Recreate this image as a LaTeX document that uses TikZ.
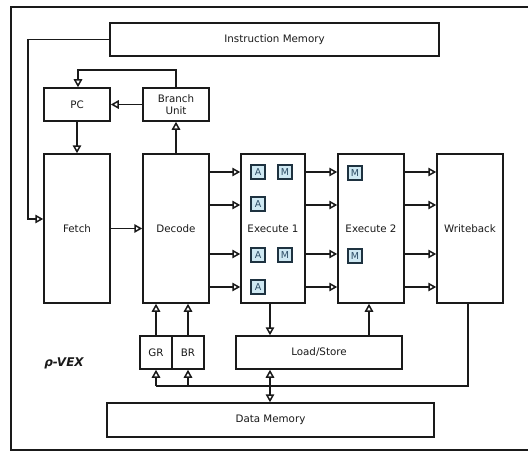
\documentclass[tikz,border=0pt]{standalone}
\usepackage{fontspec}
\setmainfont{DejaVu Sans}
\usetikzlibrary{arrows.meta,calc}
\definecolor{ink}{HTML}{1A1A1A}
\definecolor{unitfill}{HTML}{CFE9F3}
\definecolor{unitedge}{HTML}{1E3240}
\definecolor{unittext}{HTML}{2D4D66}
\newcommand\lblfont{\fontsize{10.3}{12.5}\selectfont}
\newcommand\unitfont{\fontsize{9.5}{10}\selectfont}
\begin{document}
\begin{tikzpicture}[x=1pt,y=-1pt,line width=1.5pt,draw=ink,
  blk/.style={draw=ink,fill=white,inner sep=0pt,align=center,font=\lblfont,text=ink},
  unit/.style={draw=unitedge,fill=unitfill,minimum size=14pt,inner sep=0pt,
               font=\unitfont,text=unittext,line width=1.2pt},
  arr/.style={-{Triangle[open,length=8pt,width=8.5pt]}},
  dar/.style={{Triangle[open,length=8pt,width=8.5pt]}-{Triangle[open,length=8pt,width=8.5pt]}}]
\useasboundingbox (0,0) rectangle (528,452);

% enclosing frame (open to the right)
\draw (528,7) -- (11,7) -- (11,450) -- (528,450);

% memories
\node[blk,minimum width=329pt,minimum height=33pt] (im) at (274.5,39.5) {Instruction Memory};
\node[blk,minimum width=327pt,minimum height=34pt] (dm) at (270.5,420) {Data Memory};

% front end
\node[blk,minimum width=66pt,minimum height=33pt] (pc) at (77,104.5) {PC};
\node[blk,minimum width=66pt,minimum height=33pt] (bu) at (176,104.5) {Branch\\Unit};

% pipeline stages
\node[blk,minimum width=66pt,minimum height=149pt] (fetch) at (77,228.5) {Fetch};
\node[blk,minimum width=66pt,minimum height=149pt] (dec) at (176,228.5) {Decode};
\node[blk,minimum width=64pt,minimum height=149pt] (ex1) at (273,228.5) {Execute 1};
\node[blk,minimum width=66pt,minimum height=149pt] (ex2) at (371,228.5) {Execute 2};
\node[blk,minimum width=66pt,minimum height=149pt] (wb) at (470,228.5) {Writeback};

% register files and load/store unit
\node[blk,minimum width=32pt,minimum height=33pt] (gr) at (156,352.5) {GR};
\node[blk,minimum width=32pt,minimum height=33pt] (br) at (188,352.5) {BR};
\node[blk,minimum width=166pt,minimum height=33pt] (ls) at (319,352.5) {Load/Store};

% functional units inside the execute stages
\node[unit] (a1) at (258,172) {A};
\node[unit] (m1) at (285,172) {M};
\node[unit] (a2) at (258,204) {A};
\node[unit] (a3) at (258,255) {A};
\node[unit] (m3) at (285,255) {M};
\node[unit] (a4) at (258,287) {A};
\node[unit] (m5) at (355,173) {M};
\node[unit] (m6) at (355,256) {M};

\node[font=\bfseries\itshape\fontsize{12}{14}\selectfont,text=ink] (name) at (64,363) {ρ-VEX};

% helper coordinates
\coordinate (feed) at (28,0);
\coordinate (fin) at (0,219);
\coordinate (bus) at (0,386);
\coordinate (lsx) at (270,0);
\coordinate (lsy) at (369,0);

% instruction fetch path
\draw[arr] (im.west) -- (im.west -| feed) -- (feed |- fin) -- (fetch.west |- fin);
\draw[arr] (bu.north) -- ++(0,-17) -| ([xshift=1pt]pc.north);
\draw[arr] (bu.west) -- (pc.east);
\draw[arr] (pc.south) -- (fetch.north);
\draw[arr] (fetch.east) -- (dec.west);
\draw[arr] (dec.north) -- (bu.south);

% issue lanes between stages
\foreach \y in {172,205,254,287} {
  \draw[arr] (dec.east |- 0,\y) -- (ex1.west |- 0,\y);
  \draw[arr] (ex1.east |- 0,\y) -- (ex2.west |- 0,\y);
  \draw[arr] (ex2.east |- 0,\y) -- (wb.west |- 0,\y);
}

% register reads
\draw[arr] (gr.north) -- (gr.north |- dec.south);
\draw[arr] (br.north) -- (br.north |- dec.south);

% memory access
\draw[arr] (ex1.south -| lsx) -- (ls.north -| lsx);
\draw[arr] (ls.north -| lsy) -- (ex2.south -| lsy);
\draw[dar] (ls.south -| lsx) -- (dm.north -| lsx);

% writeback bus
\draw ([xshift=-2pt]wb.south) -- ([xshift=-2pt]wb.south |- bus) -- (gr.south |- bus);
\draw[arr] (gr.south |- bus) -- (gr.south);
\draw[arr] (br.south |- bus) -- (br.south);
\end{tikzpicture}
\end{document}
